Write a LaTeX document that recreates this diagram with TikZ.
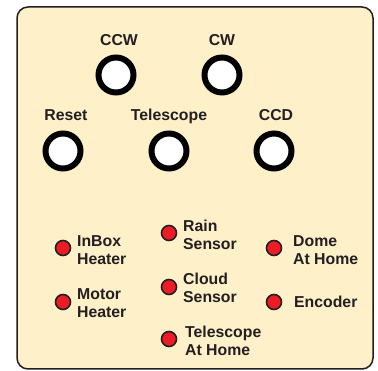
\documentclass[tikz,border=0pt]{standalone}
\usepackage{fontspec}
\setmainfont{Liberation Sans}
\usepackage{tikz}
\usetikzlibrary{positioning}

\definecolor{panelfill}{HTML}{FEF0C9}
\definecolor{inkdark}{HTML}{231F20}
\definecolor{ledred}{HTML}{ED1C24}

\tikzset{
	button/.style={circle, draw=black, fill=white, line width=6pt, minimum size=35pt, inner sep=0pt},
	led/.style={circle, draw=inkdark, fill=ledred, line width=1.6pt, minimum size=15pt, inner sep=0pt},
	caption/.style={font=\fontsize{15.8}{18}\selectfont\bfseries, text=inkdark, inner sep=0pt},
	ledtext/.style={caption, align=left, anchor=west}
}

\begin{document}
\begin{tikzpicture}[x=1pt, y=-1pt]

	\useasboundingbox (0,0) rectangle (378,371);

	\draw[fill=panelfill, draw=inkdark, line width=1.5pt, rounded corners=11pt] (17,7) rectangle (373,369);

	% push buttons
	\node[button] (ccw) at (116,75) {};
	\node[button] (cw) at (222,75) {};
	\node[button] (reset) at (63,151) {};
	\node[button] (telescope) at (169,151) {};
	\node[button] (ccd) at (274,151) {};

	\node[caption] (ccwlabel) at (119,40) {CCW};
	\node[caption] (cwlabel) at (222,40) {CW};
	\node[caption] (resetlabel) at (66,115) {Reset};
	\node[caption] (telescopelabel) at (169,116) {Telescope};
	\node[caption] (ccdlabel) at (276,115) {CCD};

	% status lamps
	\node[led] (inbox) at (63,248) {};
	\node[led] (motor) at (63,302) {};
	\node[led] (rain) at (169,233) {};
	\node[led] (cloud) at (169,287) {};
	\node[led] (athome) at (169,339) {};
	\node[led] (dome) at (274,248) {};
	\node[led] (encoder) at (274,302) {};

	\node[ledtext] (inboxlabel) at (77,250) {InBox\\Heater};
	\node[ledtext] (motorlabel) at (77,303) {Motor\\Heater};
	\node[ledtext] (rainlabel) at (183,235) {Rain\\Sensor};
	\node[ledtext] (cloudlabel) at (183,288) {Cloud\\Sensor};
	\node[ledtext] (athomelabel) at (185,341) {Telescope\\At Home};
	\node[ledtext] (domelabel) at (293,250) {Dome\\At Home};
	\node[ledtext] (encoderlabel) at (294,302) {Encoder};

\end{tikzpicture}
\end{document}
